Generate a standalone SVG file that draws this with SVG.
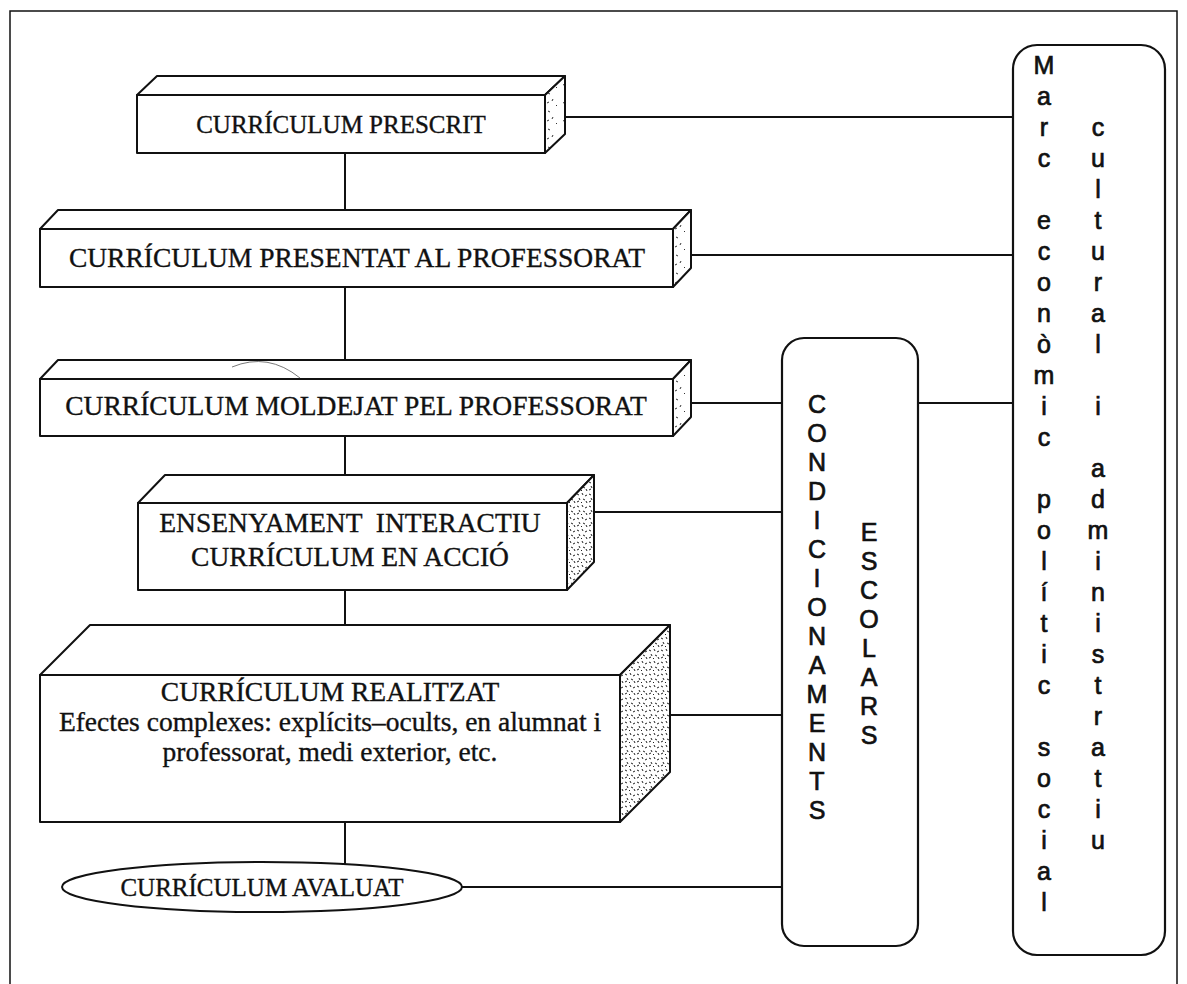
<svg xmlns="http://www.w3.org/2000/svg" width="1187" height="984" viewBox="0 0 1187 984">
  <style>
    .frame { fill: none; stroke: #111; stroke-width: 1.5; }
    .face { fill: #fff; stroke: #111; stroke-width: 2; stroke-linejoin: round; }
    .side-sparse { fill: url(#speckSparse); stroke: #111; stroke-width: 2; stroke-linejoin: round; }
    .side-dense { fill: url(#speckDense); stroke: #111; stroke-width: 2; stroke-linejoin: round; }
    .link { fill: none; stroke: #111; stroke-width: 2; }
    .panel { fill: #fff; stroke: #111; stroke-width: 2.2; }
    .serif { font-family: "Liberation Serif", "Times New Roman", serif; font-size: 27.5px; fill: #111; stroke: #111; stroke-width: 0.35; text-anchor: middle; }
    .serif.small { font-size: 25px; }
    .sans { font-family: "Liberation Sans", Arial, sans-serif; font-size: 25px; fill: #111; stroke: #111; stroke-width: 0.7; text-anchor: middle; }
  </style>
  <defs>
    <pattern id="speckSparse" width="16" height="18" patternUnits="userSpaceOnUse">
      <rect width="16" height="18" fill="#fff"/>
      <path d="M4 3 l2 1 M9 9 l-1 2 M3 13 l2 -1 M12 15 l1 1" stroke="#333" stroke-width="1" fill="none"/>
    </pattern>
    <pattern id="speckDense" width="12" height="12" patternUnits="userSpaceOnUse">
      <rect width="12" height="12" fill="#fff"/>
      <path d="M1 2 l2 1 M6 1 l1 2 M9 4 l2 -1 M3 6 l1 2 M7 7 l2 1 M1 10 l2 -1 M5 10 l1 1 M10 9 l1 2" stroke="#222" stroke-width="1" fill="none"/>
    </pattern>
  </defs>

  <!-- page frame -->
  <path class="frame" d="M10 990 V11 H1177 V990"/>

  <!-- connectors -->
  <g id="connectors">
    <path class="link" d="M345 153 V210"/>
    <path class="link" d="M345 287 V360"/>
    <path class="link" d="M345 436 V475"/>
    <path class="link" d="M345 590 V625"/>
    <path class="link" d="M345 822 V864"/>
    <path class="link" d="M565 117 H1013"/>
    <path class="link" d="M691 255 H1013"/>
    <path class="link" d="M691 403 H782"/>
    <path class="link" d="M918 403 H1013"/>
    <path class="link" d="M594 512 H782"/>
    <path class="link" d="M670 715 H782"/>
    <path class="link" d="M462 887 H782"/>
  </g>

  <!-- prescribed curriculum -->
  <g id="prescrit">
    <rect class="face" x="137" y="95" width="408" height="58"/>
    <polygon class="face" points="137,95 157,76 565,76 545,95"/>
    <polygon class="side-sparse" points="545,95 565,76 565,134 545,153"/>
    <text class="serif small" x="341" y="133">CURRÍCULUM PRESCRIT</text>
  </g>

  <!-- curriculum presented to teachers -->
  <g id="presentat">
    <rect class="face" x="40" y="229" width="633" height="58"/>
    <polygon class="face" points="40,229 58,210 691,210 673,229"/>
    <polygon class="side-sparse" points="673,229 691,210 691,268 673,287"/>
    <text class="serif" x="357" y="267">CURRÍCULUM PRESENTAT AL PROFESSORAT</text>
  </g>

  <!-- curriculum shaped by teachers -->
  <g id="moldejat">
    <rect class="face" x="40" y="379" width="633" height="57"/>
    <polygon class="face" points="40,379 58,360 691,360 673,379"/>
    <polygon class="side-sparse" points="673,379 691,360 691,417 673,436"/>
    <path d="M232 367 Q268 352 300 378" fill="none" stroke="#555" stroke-width="0.8"/>
    <text class="serif" x="356" y="415">CURRÍCULUM MOLDEJAT PEL PROFESSORAT</text>
  </g>

  <!-- interactive teaching -->
  <g id="ensenyament">
    <rect class="face" x="138" y="503" width="429" height="87"/>
    <polygon class="face" points="138,503 165,475 594,475 567,503"/>
    <polygon class="side-dense" points="567,503 594,475 594,562 567,590"/>
    <text class="serif" x="350" y="532" xml:space="preserve">ENSENYAMENT  INTERACTIU</text>
    <text class="serif" x="350" y="566">CURRÍCULUM EN ACCIÓ</text>
  </g>

  <!-- realised curriculum -->
  <g id="realitzat">
    <rect class="face" x="40" y="675" width="580" height="147"/>
    <polygon class="face" points="40,675 90,625 670,625 620,675"/>
    <polygon class="side-dense" points="620,675 670,625 670,772 620,822"/>
    <text class="serif" x="330" y="701">CURRÍCULUM REALITZAT</text>
    <text class="serif" x="330" y="731">Efectes complexes: explícits–ocults, en alumnat i</text>
    <text class="serif" x="330" y="761">professorat, medi exterior, etc.</text>
  </g>

  <!-- assessed curriculum -->
  <g id="avaluat">
    <ellipse class="face" cx="262" cy="887" rx="200" ry="25"/>
    <text class="serif small" x="262" y="896">CURRÍCULUM AVALUAT</text>
  </g>

  <!-- school conditions -->
  <g id="condicionaments">
    <rect class="panel" x="782" y="338" width="136" height="608" rx="22" ry="22"/>
    <text class="sans"><tspan x="817" y="413">C</tspan><tspan x="817" dy="29">O</tspan><tspan x="817" dy="29">N</tspan><tspan x="817" dy="29">D</tspan><tspan x="817" dy="29">I</tspan><tspan x="817" dy="29">C</tspan><tspan x="817" dy="29">I</tspan><tspan x="817" dy="29">O</tspan><tspan x="817" dy="29">N</tspan><tspan x="817" dy="29">A</tspan><tspan x="817" dy="29">M</tspan><tspan x="817" dy="29">E</tspan><tspan x="817" dy="29">N</tspan><tspan x="817" dy="29">T</tspan><tspan x="817" dy="29">S</tspan></text>
    <text class="sans"><tspan x="869" y="541">E</tspan><tspan x="869" dy="29">S</tspan><tspan x="869" dy="29">C</tspan><tspan x="869" dy="29">O</tspan><tspan x="869" dy="29">L</tspan><tspan x="869" dy="29">A</tspan><tspan x="869" dy="29">R</tspan><tspan x="869" dy="29">S</tspan></text>
  </g>

  <!-- economic, political, social, cultural and administrative frame -->
  <g id="marc">
    <rect class="panel" x="1013" y="45" width="152" height="910" rx="24" ry="24"/>
    <text class="sans"><tspan x="1044" y="74">M</tspan><tspan x="1044" dy="31">a</tspan><tspan x="1044" dy="31">r</tspan><tspan x="1044" dy="31">c</tspan><tspan x="1044" dy="62">e</tspan><tspan x="1044" dy="31">c</tspan><tspan x="1044" dy="31">o</tspan><tspan x="1044" dy="31">n</tspan><tspan x="1044" dy="31">ò</tspan><tspan x="1044" dy="31">m</tspan><tspan x="1044" dy="31">i</tspan><tspan x="1044" dy="31">c</tspan><tspan x="1044" dy="62">p</tspan><tspan x="1044" dy="31">o</tspan><tspan x="1044" dy="31">l</tspan><tspan x="1044" dy="31">í</tspan><tspan x="1044" dy="31">t</tspan><tspan x="1044" dy="31">i</tspan><tspan x="1044" dy="31">c</tspan><tspan x="1044" dy="62">s</tspan><tspan x="1044" dy="31">o</tspan><tspan x="1044" dy="31">c</tspan><tspan x="1044" dy="31">i</tspan><tspan x="1044" dy="31">a</tspan><tspan x="1044" dy="31">l</tspan></text>
    <text class="sans"><tspan x="1098" y="136">c</tspan><tspan x="1098" dy="31">u</tspan><tspan x="1098" dy="31">l</tspan><tspan x="1098" dy="31">t</tspan><tspan x="1098" dy="31">u</tspan><tspan x="1098" dy="31">r</tspan><tspan x="1098" dy="31">a</tspan><tspan x="1098" dy="31">l</tspan><tspan x="1098" dy="62">i</tspan><tspan x="1098" dy="62">a</tspan><tspan x="1098" dy="31">d</tspan><tspan x="1098" dy="31">m</tspan><tspan x="1098" dy="31">i</tspan><tspan x="1098" dy="31">n</tspan><tspan x="1098" dy="31">i</tspan><tspan x="1098" dy="31">s</tspan><tspan x="1098" dy="31">t</tspan><tspan x="1098" dy="31">r</tspan><tspan x="1098" dy="31">a</tspan><tspan x="1098" dy="31">t</tspan><tspan x="1098" dy="31">i</tspan><tspan x="1098" dy="31">u</tspan></text>
  </g>
</svg>
